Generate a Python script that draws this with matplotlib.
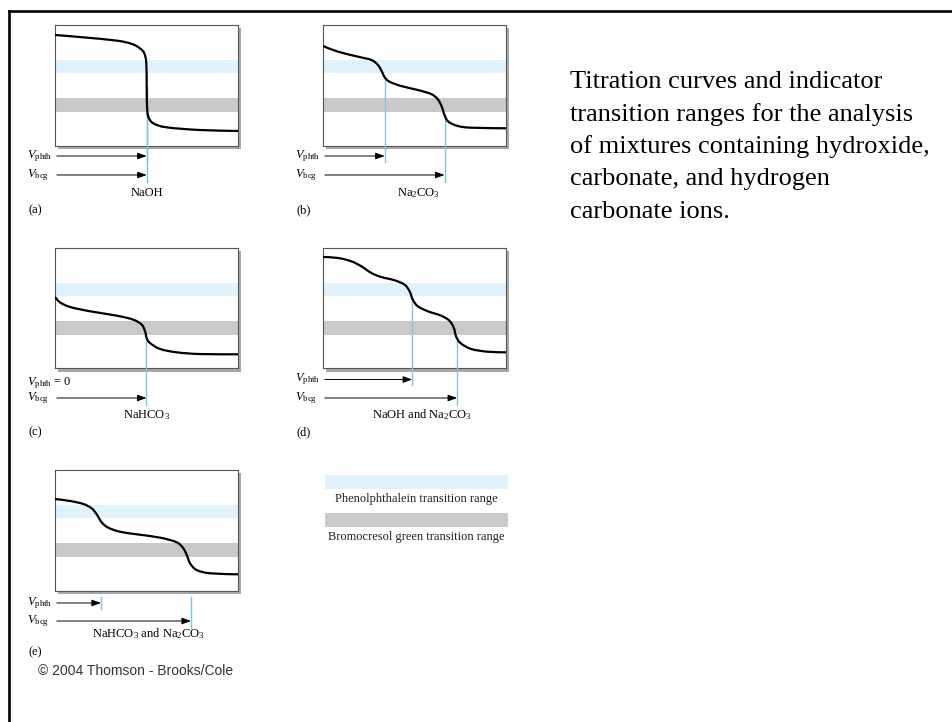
import numpy as np
import matplotlib
matplotlib.use('Agg')
import matplotlib.pyplot as plt
from matplotlib.patches import Rectangle, PathPatch
from matplotlib.lines import Line2D
from matplotlib.path import Path

plt.rcParams['font.family'] = ['Liberation Serif', 'DejaVu Serif']
plt.rcParams['mathtext.fontset'] = 'custom'
plt.rcParams['mathtext.rm'] = 'Liberation Serif'
plt.rcParams['mathtext.it'] = 'Liberation Serif:italic'

# ---------------- data (volume in % of panel width, pH) ----------------
vol_a = [0, 15.3, 33.9, 42.1, 46.4, 48.8, 49.9, 50.1, 50.3, 51.0, 53.7, 61.0, 79.2, 100]
ph_a = [12.84, 12.57, 12.18, 11.79, 11.29, 10.71, 9.55, 6.83, 4.51, 3.35, 2.58, 2.11, 1.80, 1.69]

vol_b = [0, 8.2, 19.1, 26.4, 30.0, 32.2, 33.7, 36.4, 42.7, 51.8, 59.1, 62.7, 64.9, 66.4,
         68.5, 73.6, 80.9, 100]
ph_b = [11.56, 10.90, 10.32, 9.94, 9.36, 8.58, 7.92, 7.41, 6.91, 6.45, 5.98, 5.37, 4.51, 3.54,
        2.77, 2.27, 2.07, 2.00]

vol_c = [0, 2.7, 8.2, 19.1, 33.7, 42.8, 47.4, 49.2, 50.1, 51.9, 57.4, 66.5, 79.2, 100]
ph_c = [8.31, 7.69, 7.15, 6.65, 6.14, 5.67, 5.09, 4.32, 3.54, 2.96, 2.27, 1.88, 1.68, 1.65]

vol_d = [0, 8.2, 15.4, 20.9, 26.4, 31.8, 39.1, 44.6, 47.3, 49.1, 51.8, 57.3, 64.5, 69.1,
         71.5, 72.7, 75.1, 80.9, 90.0, 100]
ph_d = [12.96, 12.84, 12.46, 11.88, 11.10, 10.63, 10.25, 9.74, 8.97, 7.99, 7.23, 6.65, 6.14,
        5.55, 4.71, 3.74, 2.96, 2.27, 1.95, 1.88]

vol_e = [0, 8.2, 15.5, 20.0, 22.8, 25.5, 29.1, 35.5, 44.6, 57.4, 66.5, 70.1, 72.0, 73.8,
         77.4, 84.7, 100]
ph_e = [10.63, 10.40, 10.05, 9.55, 8.85, 7.92, 7.30, 6.83, 6.53, 6.14, 5.60, 4.90, 4.13, 3.16,
        2.38, 2.00, 1.88]

phth_range = (8.4, 9.9)   # phenolphthalein transition range (pH)
bcg_range = (3.9, 5.5)    # bromocresol green transition range (pH)

panels = ['a', 'b', 'c', 'd', 'e']
curves = {'a': (vol_a, ph_a), 'b': (vol_b, ph_b), 'c': (vol_c, ph_c),
          'd': (vol_d, ph_d), 'e': (vol_e, ph_e)}
eq_phth = {'a': 50.1, 'b': 33.7, 'c': None, 'd': 48.7, 'e': 25.1}
eq_bcg = {'a': 50.1, 'b': 66.4, 'c': 50.0, 'd': 73.3, 'e': 74.3}
names = {'a': 'NaOH', 'b': 'Na$_2$CO$_3$', 'c': 'NaHCO$_3$',
         'd': 'NaOH and Na$_2$CO$_3$', 'e': 'NaHCO$_3$ and Na$_2$CO$_3$'}
name_x = {'a': 50, 'b': 52, 'c': 50, 'd': 54, 'e': 51}
connect = {'a': True, 'b': True, 'c': True, 'd': True, 'e': False}

desc_lines = ["Titration curves and indicator",
              "transition ranges for the analysis",
              "of mixtures containing hydroxide,",
              "carbonate, and hydrogen",
              "carbonate ions."]
legend_labels = ["Phenolphthalein transition range", "Bromocresol green transition range"]
copyright_text = "\u00a9 2004 Thomson - Brooks/Cole"

# ---------------- layout / style ----------------
W, H = 953, 722
BOX_W, BOX_H = 183, 120.5
origin = {'a': (55, 25), 'b': (323, 25), 'c': (55, 248), 'd': (323, 248), 'e': (55, 470)}
# offsets below box (px): phth arrow, bcg arrow, name, letter
offs = {'a': (10.5, 29.5, 47.5, 64.5), 'b': (10.5, 29.5, 47.5, 64.5),
        'c': (14.5, 29.5, 46.5, 63.5), 'd': (11, 29.5, 46.5, 63.5),
        'e': (12.5, 30.5, 43.5, 61.5)}
BLUE_BAND = '#e1f2fc'
GRAY_BAND = '#c9c9c9'
EQ_BLUE = '#7cc6de'
YMAX = 14.0
px2y = YMAX / BOX_H
FS = 9


def smooth_path(xs, ys):
    """Bezier path passing through the read points (Catmull-Rom style handles)."""
    P = np.column_stack([xs, ys]).astype(float)
    Q = np.vstack([P[0], P, P[-1]])
    verts = [P[0]]
    codes = [Path.MOVETO]
    for i in range(1, len(Q) - 2):
        p0, p1, p2, p3 = Q[i - 1], Q[i], Q[i + 1], Q[i + 2]
        verts += [p1 + (p2 - p0) / 6.0, p2 - (p3 - p1) / 6.0, p2]
        codes += [Path.CURVE4] * 3
    return Path(verts, codes)


fig = plt.figure(figsize=(W / 100, H / 100), dpi=100)
fig.patch.set_facecolor('white')

# slide frame (top and left)
fig.add_artist(Line2D([9.5 / W, 1], [1 - 11 / H, 1 - 11 / H], color='black', lw=1.9,
                      transform=fig.transFigure))
fig.add_artist(Line2D([9.5 / W, 9.5 / W], [0, 1 - 11 / H], color='black', lw=1.9,
                      transform=fig.transFigure))

arrow_props = dict(arrowstyle='-|>,head_length=0.55,head_width=0.2', color='black',
                   lw=0.7, shrinkA=0, shrinkB=0, mutation_scale=10)

for p in panels:
    x0, y0 = origin[p]
    rect = [x0 / W, 1 - (y0 + BOX_H) / H, BOX_W / W, BOX_H / H]
    # drop shadow
    fig.add_artist(Rectangle(((x0 + 3) / W, 1 - (y0 + BOX_H + 3) / H), BOX_W / W, BOX_H / H,
                             facecolor='#a8a8a8', edgecolor='none', zorder=-1,
                             transform=fig.transFigure))
    ax = fig.add_axes(rect)
    ax.set_xlim(0, 100)
    ax.set_ylim(0, YMAX)
    ax.set_xticks([])
    ax.set_yticks([])
    for s in ax.spines.values():
        s.set_color('#555555')
        s.set_linewidth(0.8)
    ax.axhspan(*phth_range, color=BLUE_BAND, lw=0, zorder=1)
    ax.axhspan(*bcg_range, color=GRAY_BAND, lw=0, zorder=1)
    v, ph = curves[p]
    ax.add_patch(PathPatch(smooth_path(v, ph), facecolor='none', edgecolor='black',
                           lw=1.6, zorder=4, capstyle='butt', joinstyle='round'))

    o_phth, o_bcg, o_name, o_let = offs[p]
    y_phth = -o_phth * px2y
    y_bcg = -o_bcg * px2y

    # equivalence lines
    for eq, bottom in ((eq_phth[p], o_phth + 6), (eq_bcg[p], o_bcg + 7)):
        if eq is None:
            continue
        top = np.interp(eq, v, ph) if connect[p] else -6.5 * px2y
        ax.plot([eq, eq], [top, -bottom * px2y], color=EQ_BLUE, lw=1.0, zorder=3,
                clip_on=False)

    # arrows
    if eq_phth[p] is not None:
        ax.annotate('', xy=(eq_phth[p], y_phth), xytext=(1, y_phth),
                    arrowprops=arrow_props, annotation_clip=False)
        ax.text(-28 * 100 / BOX_W, y_phth, r'$V_{\mathrm{phth}}$', fontsize=FS,
                ha='left', va='center', clip_on=False)
    else:
        ax.text(-28 * 100 / BOX_W, y_phth, r'$V_{\mathrm{phth}}$ = 0', fontsize=FS,
                ha='left', va='center', clip_on=False)
    ax.annotate('', xy=(eq_bcg[p], y_bcg), xytext=(1, y_bcg),
                arrowprops=arrow_props, annotation_clip=False)
    ax.text(-28 * 100 / BOX_W, y_bcg, r'$V_{\mathrm{bcg}}$', fontsize=FS,
            ha='left', va='center', clip_on=False)
    ax.text(name_x[p], -o_name * px2y, names[p], fontsize=FS, ha='center', va='center',
            clip_on=False)
    ax.text(-26 * 100 / BOX_W, -o_let * px2y, '(%s)' % p, fontsize=FS, ha='left',
            va='center', clip_on=False)

# legend
lax = fig.add_axes([325 / W, 1 - 545 / H, 183 / W, 75 / H])
lax.set_xlim(0, 1)
lax.set_ylim(545, 470)
lax.axis('off')
lax.add_patch(Rectangle((0, 475), 1, 14, facecolor=BLUE_BAND, edgecolor='none'))
lax.add_patch(Rectangle((0, 513), 1, 14, facecolor=GRAY_BAND, edgecolor='none'))
lax.text(0.5, 499, legend_labels[0], fontsize=FS, ha='center', va='center', color='#222222')
lax.text(0.5, 537, legend_labels[1], fontsize=FS, ha='center', va='center', color='#222222')

# description
for i, line in enumerate(desc_lines):
    fig.text(570 / W, 1 - (88 + 32.5 * i) / H, line, fontsize=19, ha='left',
             va='baseline', color='black')

fig.text(38 / W, 1 - 671 / H, copyright_text, fontsize=10, ha='left', va='center',
         family='Liberation Sans', color='#333333')

fig.savefig('out.png', dpi=100, facecolor='white')
